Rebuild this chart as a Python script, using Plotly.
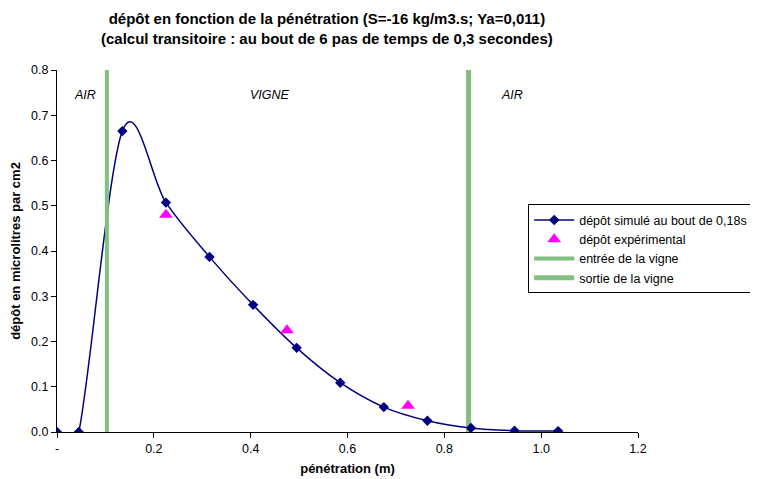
import math
import plotly.graph_objects as go

# Data
sim_x = [0.0, 0.045, 0.135, 0.225, 0.315, 0.405, 0.495, 0.585, 0.675, 0.765, 0.855, 0.945, 1.035]
sim_y = [0.0, 0.0, 0.665, 0.507, 0.387, 0.281, 0.186, 0.109, 0.055, 0.025, 0.009, 0.003, 0.002]
exp_x = [0.225, 0.475, 0.725]
exp_y = [0.48, 0.225, 0.058]
entry_x = 0.103
exit_x = 0.85
x_range = [0.0, 1.2]
y_range = [0.0, 0.8]
x_tickvals = [0, 0.2, 0.4, 0.6, 0.8, 1.0, 1.2]
x_ticktext = ["-", "0.2", "0.4", "0.6", "0.8", "1.0", "1.2"]
zone_labels = ["AIR", "VIGNE", "AIR"]
zone_x = [0.058, 0.44, 0.94]
title_lines = ["dépôt en fonction de la pénétration (S=-16 kg/m3.s; Ya=0,011)",
               "(calcul transitoire : au bout de 6 pas de temps de 0,3 secondes)"]

FONT = "Liberation Sans, Arial, sans-serif"
GREEN = "#80c080"
NAVY = "#000080"

W, H = 750, 471
ML, MR, MT, MB = 49, 120, 62, 47
PW, PH = W - ML - MR, H - MT - MB
SX = PW / (x_range[1] - x_range[0])
SY = PH / (y_range[1] - y_range[0])


def smooth_path(xs, ys):
    """Excel-style smoothed line as cubic Bezier path, in data coordinates."""
    P = [(x * SX, y * SY) for x, y in zip(xs, ys)]
    n = len(P)
    dist = lambda a, b: math.hypot(a[0] - b[0], a[1] - b[1])
    s = f"M {xs[0]:.5f},{ys[0]:.5f}"
    for i in range(n - 1):
        p0 = P[i - 1] if i > 0 else P[i]
        p1 = P[i]
        p2 = P[i + 1]
        p3 = P[i + 2] if i + 2 < n else P[i + 1]
        d12 = dist(p1, p2)
        d02 = dist(p0, p2)
        d13 = dist(p1, p3)
        fa = 1 / 6 if d02 == 0 else min(1 / 6, d12 / (2 * d02))
        fb = 1 / 6 if d13 == 0 else min(1 / 6, d12 / (2 * d13))
        c1 = (p1[0] + fa * (p2[0] - p0[0]), p1[1] + fa * (p2[1] - p0[1]))
        c2 = (p2[0] - fb * (p3[0] - p1[0]), p2[1] - fb * (p3[1] - p1[1]))
        s += (f" C {c1[0]/SX:.5f},{c1[1]/SY:.5f} {c2[0]/SX:.5f},{c2[1]/SY:.5f}"
              f" {xs[i+1]:.5f},{ys[i+1]:.5f}")
    return s


fig = go.Figure()
# legend entry for simulated series (line + marker)
fig.add_trace(go.Scatter(
    x=[None], y=[None], mode="lines+markers",
    line=dict(color=NAVY, width=1.5),
    marker=dict(symbol="diamond", size=8, color=NAVY),
    name="dépôt simulé au bout de 0,18s"))
fig.add_trace(go.Scatter(
    x=exp_x, y=exp_y, mode="markers",
    marker=dict(symbol="triangle-up", size=12, color="#ff00ff"),
    name="dépôt expérimental"))
fig.add_trace(go.Scatter(
    x=[entry_x, entry_x], y=y_range, mode="lines",
    line=dict(color=GREEN, width=4), name="entrée de la vigne"))
fig.add_trace(go.Scatter(
    x=[exit_x, exit_x], y=y_range, mode="lines",
    line=dict(color=GREEN, width=5), name="sortie de la vigne"))
fig.add_trace(go.Scatter(
    x=sim_x, y=sim_y, mode="markers",
    marker=dict(symbol="diamond", size=8, color=NAVY),
    name="dépôt simulé au bout de 0,18s", showlegend=False))

fig.add_shape(type="path", path=smooth_path(sim_x, sim_y), xref="x", yref="y",
              line=dict(color=NAVY, width=1.5), layer="below")

for lab, xx in zip(zone_labels, zone_x):
    fig.add_annotation(x=xx, y=0.745, text="<i>" + lab + "</i>", showarrow=False,
                       font=dict(family=FONT, size=12.5, color="black"))

# chart title (two bold lines)
fig.add_annotation(xref="paper", yref="paper", x=0.465, y=1.172,
                   xanchor="center", yanchor="top", showarrow=False,
                   text="<b>" + "<br>".join(title_lines) + "</b>",
                   font=dict(family=FONT, size=15, color="black"))

fig.update_layout(
    width=W, height=H,
    margin=dict(l=ML, r=MR, t=MT, b=MB, autoexpand=False),
    paper_bgcolor="white", plot_bgcolor="white",
    font=dict(family=FONT, size=12, color="black"),
    legend=dict(x=0.811, y=0.506, xanchor="left", yanchor="middle",
                bordercolor="black", borderwidth=1, bgcolor="white",
                font=dict(family=FONT, size=12.5, color="black"),
                itemwidth=40, tracegroupgap=0),
    showlegend=True,
)
fig.update_xaxes(range=x_range, tickvals=x_tickvals, ticktext=x_ticktext,
                 showgrid=False, zeroline=False, showline=True, linecolor="black",
                 linewidth=1, ticks="outside", ticklen=5, tickcolor="black", automargin=False,
                 title=dict(text="<b>pénétration (m)</b>", font=dict(family=FONT, size=13), standoff=8),
                 tickfont=dict(family=FONT, size=12.5))
fig.update_yaxes(range=y_range, dtick=0.1, tickformat=".1f",
                 showgrid=False, zeroline=False, showline=True, linecolor="black",
                 linewidth=1, ticks="outside", ticklen=5, tickcolor="black", automargin=False,
                 title=dict(text="<b>dépôt en microlitres par cm2</b>", font=dict(family=FONT, size=13), standoff=8),
                 tickfont=dict(family=FONT, size=12.5))

fig.write_html("out.html")
